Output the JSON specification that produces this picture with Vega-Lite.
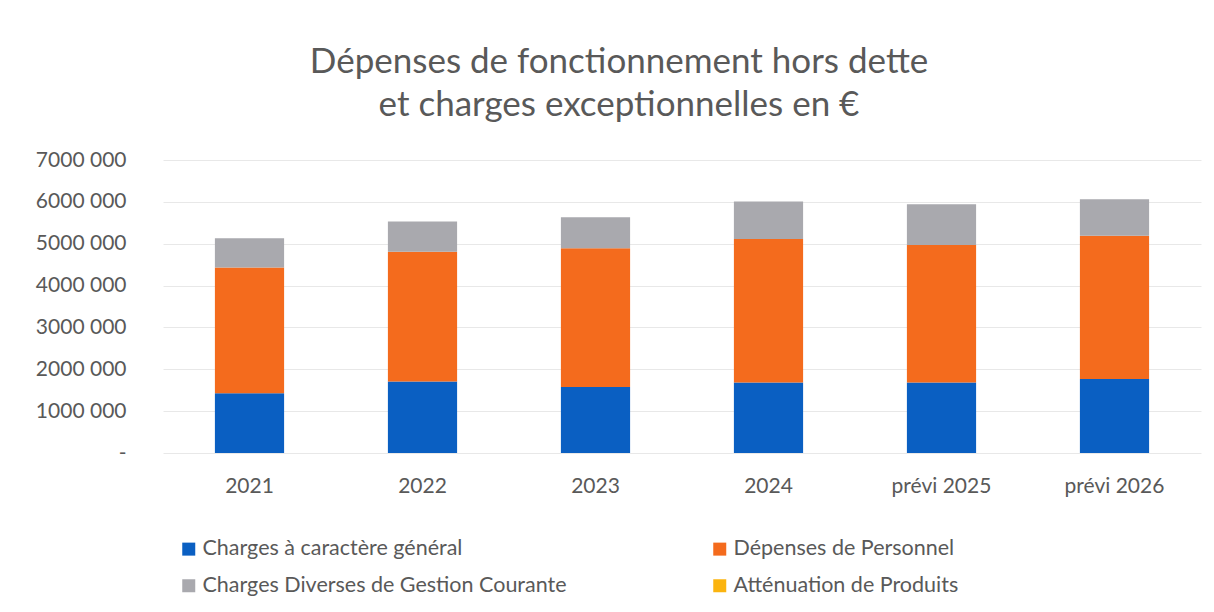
{
  "$schema": "https://vega.github.io/schema/vega-lite/v6.json",
  "autosize": {"type": "none"},
  "width": 1038,
  "height": 293,
  "padding": {"left": 163, "top": 160, "right": 13, "bottom": 159},
  "background": "white",
  "title": {
    "text": ["Dépenses de fonctionnement hors dette", "et charges exceptionnelles en €"],
    "font": "Lato",
    "fontSize": 35,
    "fontWeight": "normal",
    "color": "#595959",
    "lineHeight": 43,
    "anchor": "middle",
    "frame": "group",
    "dx": -63,
    "offset": 26
  },
  "data": {
    "values": [
      {"annee": "2021", "poste": "Charges à caractère général", "montant": 1430000},
      {"annee": "2021", "poste": "Dépenses de Personnel", "montant": 3000000},
      {"annee": "2021", "poste": "Charges Diverses de Gestion Courante", "montant": 700000},
      {"annee": "2021", "poste": "Atténuation de Produits", "montant": 0},
      {"annee": "2022", "poste": "Charges à caractère général", "montant": 1710000},
      {"annee": "2022", "poste": "Dépenses de Personnel", "montant": 3100000},
      {"annee": "2022", "poste": "Charges Diverses de Gestion Courante", "montant": 720000},
      {"annee": "2022", "poste": "Atténuation de Produits", "montant": 0},
      {"annee": "2023", "poste": "Charges à caractère général", "montant": 1575000},
      {"annee": "2023", "poste": "Dépenses de Personnel", "montant": 3315000},
      {"annee": "2023", "poste": "Charges Diverses de Gestion Courante", "montant": 740000},
      {"annee": "2023", "poste": "Atténuation de Produits", "montant": 0},
      {"annee": "2024", "poste": "Charges à caractère général", "montant": 1685000},
      {"annee": "2024", "poste": "Dépenses de Personnel", "montant": 3425000},
      {"annee": "2024", "poste": "Charges Diverses de Gestion Courante", "montant": 900000},
      {"annee": "2024", "poste": "Atténuation de Produits", "montant": 0},
      {"annee": "prévi 2025", "poste": "Charges à caractère général", "montant": 1685000},
      {"annee": "prévi 2025", "poste": "Dépenses de Personnel", "montant": 3285000},
      {"annee": "prévi 2025", "poste": "Charges Diverses de Gestion Courante", "montant": 970000},
      {"annee": "prévi 2025", "poste": "Atténuation de Produits", "montant": 0},
      {"annee": "prévi 2026", "poste": "Charges à caractère général", "montant": 1770000},
      {"annee": "prévi 2026", "poste": "Dépenses de Personnel", "montant": 3420000},
      {"annee": "prévi 2026", "poste": "Charges Diverses de Gestion Courante", "montant": 870000},
      {"annee": "prévi 2026", "poste": "Atténuation de Produits", "montant": 0}
    ]
  },
  "transform": [
    {"calculate": "indexof(['Charges à caractère général','Dépenses de Personnel','Charges Diverses de Gestion Courante','Atténuation de Produits'], datum.poste)", "as": "ordre"}
  ],
  "mark": {"type": "bar"},
  "encoding": {
    "x": {
      "field": "annee",
      "type": "nominal",
      "sort": null,
      "scale": {"paddingInner": 0.6, "paddingOuter": 0.3},
      "axis": {
        "title": null,
        "labelAngle": 0,
        "labelFont": "Lato",
        "labelFontSize": 21,
        "labelColor": "#595959",
        "labelPadding": 22,
        "ticks": false,
        "domain": false
      }
    },
    "y": {
      "field": "montant",
      "type": "quantitative",
      "stack": "zero",
      "scale": {"domain": [0, 7000000], "nice": false},
      "axis": {
        "title": null,
        "values": [0, 1000000, 2000000, 3000000, 4000000, 5000000, 6000000, 7000000],
        "labelExpr": "datum.value == 0 ? '-\u2007\u2007' : format(datum.value / 1000, 'd') + ' 000'",
        "labelFont": "Lato",
        "labelFontSize": 21,
        "labelColor": "#595959",
        "labelPadding": 37,
        "ticks": false,
        "domain": false,
        "grid": true,
        "gridColor": "#e8e8e8",
        "gridWidth": 1
      }
    },
    "color": {
      "field": "poste",
      "type": "nominal",
      "scale": {
        "domain": ["Charges à caractère général", "Dépenses de Personnel", "Charges Diverses de Gestion Courante", "Atténuation de Produits"],
        "range": ["#0a5fc2", "#f46b1d", "#a9a9ae", "#fbb40f"]
      },
      "legend": {
        "title": null,
        "orient": "none",
        "direction": "horizontal",
        "legendX": 15,
        "legendY": 378,
        "columns": 2,
        "columnPadding": 142,
        "rowPadding": 14,
        "symbolType": "square",
        "symbolSize": 169,
        "symbolStrokeWidth": 0,
        "labelFont": "Lato",
        "labelFontSize": 21.5,
        "labelColor": "#595959",
        "labelOffset": 3,
        "labelLimit": 600
      }
    },
    "order": {"field": "ordre", "type": "quantitative", "sort": "ascending"}
  },
  "config": {"view": {"stroke": null}}
}
